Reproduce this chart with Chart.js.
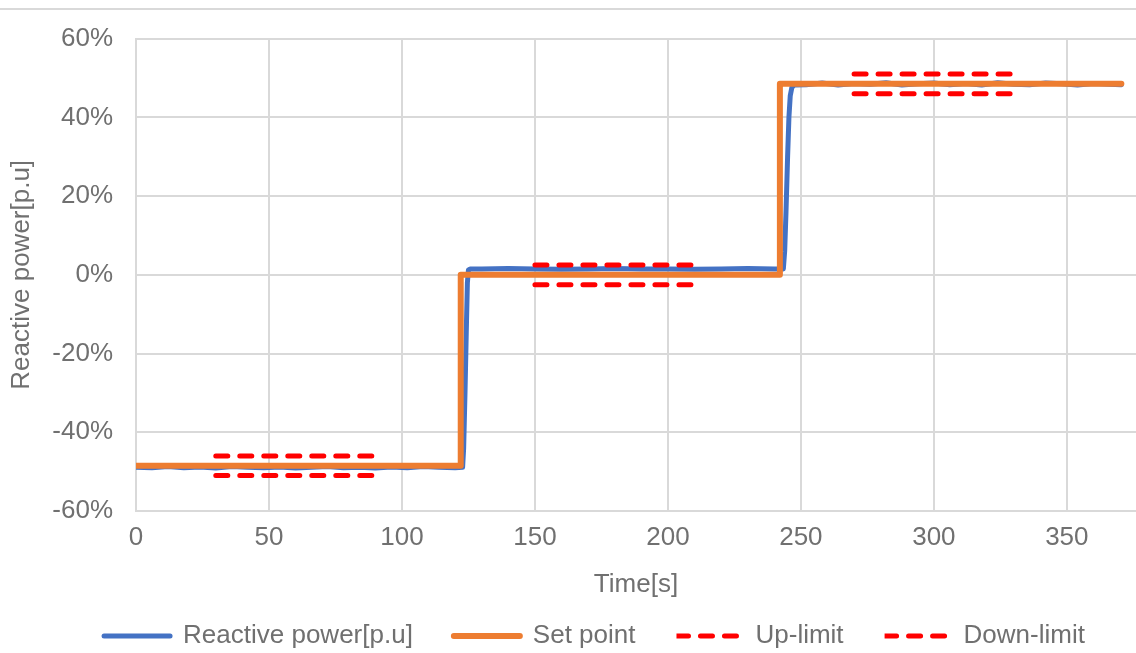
<!DOCTYPE html>
<html>
<head>
<meta charset="utf-8">
<script src="https://cdn.jsdelivr.net/npm/chart.js@4.4.0/dist/chart.umd.min.js"></script>
<style>
  html, body { margin: 0; padding: 0; background: #ffffff; }
  canvas { display: block; }
</style>
</head>
<body>
<canvas id="chart" width="1136" height="653"></canvas>
<script>
// Measured reactive power response [% of rated], sampled in time [s]
const blueTime = [
  0, 6, 12, 18, 24, 30, 36, 42, 48, 54, 60, 66, 72, 78, 84, 90, 96, 102, 108, 114, 120,
  122.8, 123.2, 123.7, 124.2, 124.6, 125.0, 125.6,
  130, 140, 150, 160, 170, 180, 190, 200, 210, 220, 230, 240,
  243.4, 243.9, 244.4, 245.0, 245.5, 246.0, 246.6, 247.5,
  252, 258, 264, 270, 276, 282, 288, 294, 300, 306, 312, 318, 324, 330, 336, 342, 348, 354, 360, 366,
  370.5
];
const blueValue = [
  -48.9, -49.0, -48.7, -49.0, -48.8, -49.1, -48.7, -48.9, -49.0, -48.8, -49.1, -48.9, -48.7, -49.0, -48.9, -49.1, -48.8, -49.0, -48.7, -48.9, -49.0,
  -48.9, -44, -30, -14, -2, 1.2, 1.5,
  1.5, 1.6, 1.5, 1.4, 1.5, 1.6, 1.5, 1.5, 1.4, 1.5, 1.6, 1.5,
  1.5, 6, 16, 30, 40, 45.5, 47.6, 48.2,
  48.3, 48.7, 48.2, 48.6, 48.4, 48.8, 48.2, 48.5, 48.7, 48.3, 48.6, 48.2, 48.8, 48.4, 48.3, 48.7, 48.5, 48.2, 48.6, 48.4,
  48.3
];

// Set point steps
const setTime  = [0, 122.1, 122.1, 242.1, 242.1, 370.5];
const setValue = [-48.5, -48.5, 0, 0, 48.5, 48.5];

// Tolerance band windows
const limitStart = [30, 150, 270];
const limitEnd   = [90, 210, 330];
const upLimit    = [-46, 2.5, 51];
const downLimit  = [-51, -2.5, 46];

// Axis ticks
const xTicks = [0, 50, 100, 150, 200, 250, 300, 350];
const yTicks = [-60, -40, -20, 0, 20, 40, 60];

const toPoints = (xs, ys) => xs.map((x, i) => ({ x: x, y: ys[i] }));
const bandPoints = (levels) => {
  const pts = [];
  levels.forEach((v, i) => {
    pts.push({ x: limitStart[i], y: v });
    pts.push({ x: limitEnd[i], y: v });
    pts.push({ x: limitEnd[i], y: null });
  });
  return pts;
};

const FONT = { family: "'Liberation Sans', Arial, sans-serif", size: 26 };
const TEXT = '#707070';
const GRID = '#d9d9d9';

const framePlugin = {
  id: 'frame',
  beforeDraw(chart) {
    const ctx = chart.ctx;
    ctx.save();
    ctx.fillStyle = '#ffffff';
    ctx.fillRect(0, 0, chart.width, chart.height);
    ctx.fillStyle = GRID;
    ctx.fillRect(0, 8, chart.width, 2);
    ctx.restore();
  }
};

new Chart(document.getElementById('chart'), {
  type: 'line',
  data: {
    datasets: [
      {
        label: 'Reactive power[p.u]',
        data: toPoints(blueTime, blueValue),
        borderColor: '#4472C4',
        backgroundColor: '#4472C4',
        borderWidth: 5,
        borderCapStyle: 'round',
        borderJoinStyle: 'round',
        order: 4
      },
      {
        label: 'Set point',
        data: toPoints(setTime, setValue),
        borderColor: '#ED7D31',
        backgroundColor: '#ED7D31',
        borderWidth: 6,
        borderCapStyle: 'round',
        borderJoinStyle: 'round',
        order: 3
      },
      {
        label: 'Up-limit',
        data: bandPoints(upLimit),
        borderColor: '#FF0000',
        backgroundColor: '#FF0000',
        borderWidth: 5,
        borderDash: [12, 12],
        borderCapStyle: 'round',
        spanGaps: false,
        order: 2
      },
      {
        label: 'Down-limit',
        data: bandPoints(downLimit),
        borderColor: '#FF0000',
        backgroundColor: '#FF0000',
        borderWidth: 5,
        borderDash: [12, 12],
        borderCapStyle: 'round',
        spanGaps: false,
        order: 1
      }
    ]
  },
  options: {
    responsive: false,
    animation: false,
    devicePixelRatio: 1,
    elements: { point: { radius: 0, hoverRadius: 0 }, line: { tension: 0, fill: false } },
    layout: { padding: { top: 37, left: 0, right: -53, bottom: -6 } },
    plugins: {
      tooltip: { enabled: false },
      legend: {
        position: 'bottom',
        labels: {
          font: FONT,
          color: TEXT,
          boxWidth: 66,
          boxHeight: 0,
          padding: 41,
          sort: (a, b) => a.datasetIndex - b.datasetIndex
        }
      }
    },
    scales: {
      x: {
        type: 'linear',
        min: 0,
        max: 376,
        afterBuildTicks: (scale) => { scale.ticks = xTicks.map(v => ({ value: v })); },
        ticks: { color: TEXT, font: FONT, padding: 11.4, maxRotation: 0 },
        grid: { color: GRID, lineWidth: 2, drawTicks: false },
        border: { color: GRID, width: 2 },
        title: { display: true, text: 'Time[s]', color: TEXT, font: FONT, padding: { top: 0, bottom: -18.6 } },
        afterFit: (scale) => { scale.height = 71; }
      },
      y: {
        type: 'linear',
        min: -60,
        max: 60,
        afterBuildTicks: (scale) => { scale.ticks = yTicks.map(v => ({ value: v })); },
        ticks: { color: TEXT, font: FONT, padding: 23, callback: (v) => v + '%' },
        grid: { color: GRID, lineWidth: 2, drawTicks: false },
        border: { color: GRID, width: 2 },
        title: { display: true, text: 'Reactive power[p.u]', color: TEXT, font: FONT, padding: { top: 6.4, bottom: 0 } },
        afterFit: (scale) => { scale.width = 136; }
      }
    }
  },
  plugins: [framePlugin]
});
</script>
</body>
</html>
